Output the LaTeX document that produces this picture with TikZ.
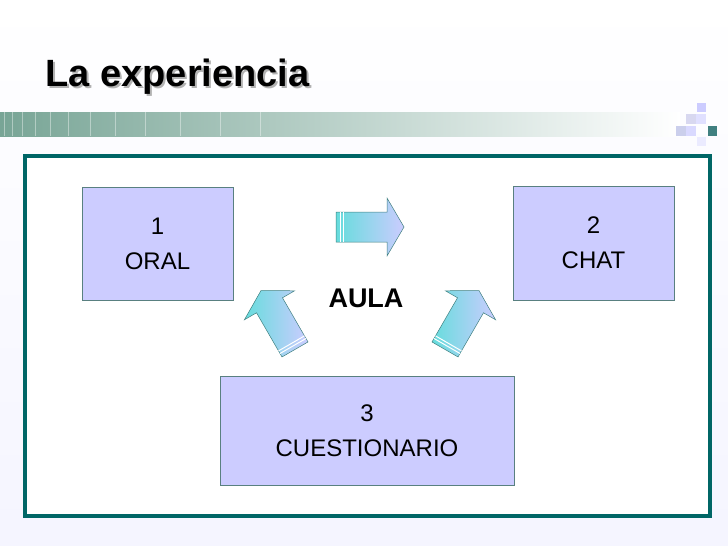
\documentclass[tikz,border=0pt]{standalone}
\usepackage{fontspec}
\setmainfont{Liberation Sans}
\definecolor{frameteal}{RGB}{0,102,102}
\definecolor{lav}{RGB}{204,204,255}
\definecolor{barg}{RGB}{120,165,150}
\tikzset{
 lbox/.style={draw=gray!70!teal, line width=1pt, fill=lav, align=center, font=\fontsize{24}{35}\selectfont, inner sep=0pt},
 fatarrow/.style={draw=teal!50!gray, line width=0.5pt, left color=cyan!55!teal!60, right color=lav}
}
\newcommand{\fatarr}[3]{%
 \begin{scope}[shift={(#1,#2)},rotate=#3]
  \path[fatarrow] (-34,-15) -- (17,-15) -- (17,-29) -- (34,0) -- (17,29) -- (17,15) -- (-34,15) -- cycle;
  \draw[white,line width=1pt] (-30,-15) -- (-30,15) (-27,-15) -- (-27,15);
 \end{scope}}
\begin{document}
\begin{tikzpicture}[x=1pt,y=-1pt]
\useasboundingbox (0,0) rectangle (728,546);
\shade[top color=white,bottom color=blue!4] (0,0) rectangle (728,546);
\shade[left color=barg, right color=white] (0,112) rectangle (680,136);
\foreach \a in {4,12,22,35,50,68,90,115,145,180,220,260}{\draw[white,opacity=0.4] (\a,112) -- (\a,136);}
\fill[blue!20] (697,103) rectangle (706,112);
\fill[cyan!25!blue!15] (686,114) rectangle (696,124);
\fill[blue!12] (696,114) rectangle (706,124);
\fill[cyan!30!blue!20] (676,126) rectangle (686,136);
\fill[blue!15] (686,126) rectangle (696,136);
\fill[teal!50!gray] (708,126) rectangle (717,136);
\fill[blue!8] (697,137) rectangle (706,146);
\node[anchor=west,text=gray!60,font=\bfseries\fontsize{38}{44}\selectfont] (shadow) at (44,79) {La experiencia};
\node[anchor=west,font=\bfseries\fontsize{38}{44}\selectfont] (title) at (42,77) {La experiencia};
\fill[white] (25,156) rectangle (710,516);
\draw[frameteal,line width=4pt] (25,156) rectangle (710,516);
\node[lbox,minimum width=151pt,minimum height=113pt] (b1) at (157.5,243.5) {1\\ORAL};
\node[lbox,minimum width=161pt,minimum height=114pt] (b2) at (593.5,243) {2\\CHAT};
\node[lbox,minimum width=294pt,minimum height=109pt] (b3) at (367,430.5) {3\\CUESTIONARIO};
\node[font=\bfseries\fontsize{27}{30}\selectfont] (aula) at (366,298) {AULA};
\fatarr{370}{227}{0}
\fatarr{278}{320}{120}
\fatarr{462}{320}{60}
\end{tikzpicture}
\end{document}
